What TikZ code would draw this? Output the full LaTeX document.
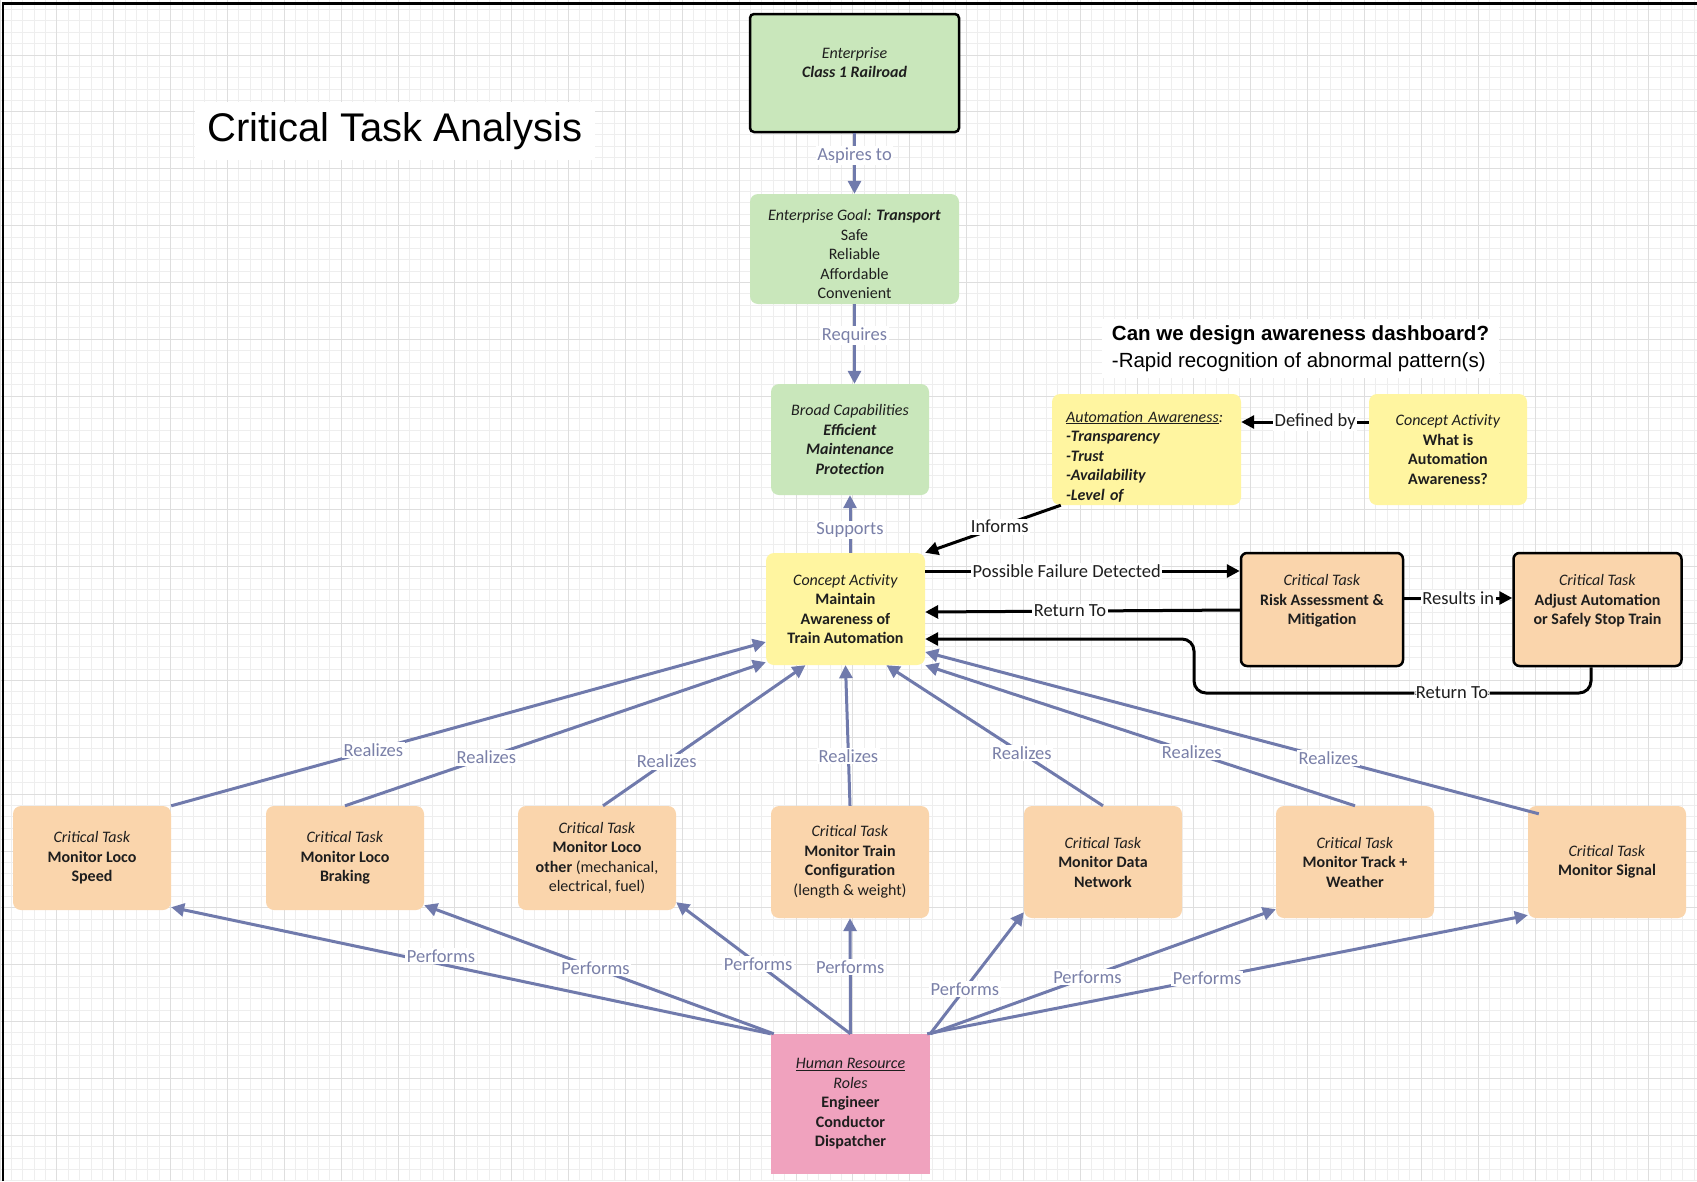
\documentclass[tikz,border=0pt]{standalone}
\usepackage{fontspec}
\setmainfont{Carlito}
\newfontfamily\arialfont{Liberation Sans}
\usetikzlibrary{arrows.meta,calc}

\definecolor{cgreen}{RGB}{201,231,187}
\definecolor{cyellow}{RGB}{255,245,160}
\definecolor{corange}{RGB}{250,213,172}
\definecolor{cpink}{RGB}{240,162,190}
\definecolor{flowblue}{RGB}{112,122,172}
\definecolor{tagblue}{RGB}{122,128,168}
\definecolor{inkcol}{RGB}{30,30,30}
\definecolor{gridminor}{RGB}{238,238,238}
\definecolor{gridmajor}{RGB}{222,222,222}

\newcommand\ctafont{\fontsize{16}{19.5}\selectfont}
\newcommand\tagfont{\fontsize{18.5}{21}\selectfont}

\begin{document}
\begin{tikzpicture}[x=1pt,y=-1pt,
  card/.style={rounded corners=8pt, align=center, inner sep=0pt, font=\ctafont, text=inkcol},
  greencard/.style={card, fill=cgreen},
  yellowcard/.style={card, fill=cyellow},
  orangecard/.style={card, fill=corange},
  blackcard/.style={card, fill=corange, draw=black, line width=2.5pt, rounded corners=6pt},
  blueflow/.style={draw=flowblue, line width=3pt, -{Triangle[length=13pt,width=13pt]}},
  blackflow/.style={draw=black, line width=3pt, -{Triangle[length=13pt,width=13pt]}},
  bluetag/.style={fill=white, inner sep=1.5pt, text=tagblue, font=\tagfont},
  blacktag/.style={fill=white, inner sep=1.5pt, text=inkcol, font=\tagfont},
]
\useasboundingbox (0,0) rectangle (1697,1181);
\fill[white] (0,0) rectangle (1697,1181);

% background grid
\foreach \i in {0,...,149} \draw[gridminor, line width=0.8pt] (\i*11.37,0) -- (\i*11.37,1181);
\foreach \i in {0,...,103} \draw[gridminor, line width=0.8pt] (0,9.52+\i*11.37) -- (1697,9.52+\i*11.37);
\foreach \i in {0,...,29} \draw[gridmajor, line width=0.8pt] (\i*56.85,0) -- (\i*56.85,1181);
\foreach \i in {0,...,19} \draw[gridmajor, line width=0.8pt] (0,55+\i*56.85) -- (1697,55+\i*56.85);

% frame edges
\draw[line width=2.5pt] (3,1181) -- (3,3.5) -- (1697,3.5);

% headings
\node[fill=white, inner xsep=12pt, inner ysep=10pt, font=\arialfont\fontsize{40}{48}\selectfont] (title) at (395,131) {Critical Task Analysis};
\node[fill=white, align=left, inner xsep=10pt, inner ysep=6pt, font=\arialfont\fontsize{20.5}{27}\selectfont] (question) at (1300.5,348.5)
  {\textbf{Can we design awareness dashboard?}\\-Rapid recognition of abnormal pattern(s)};

% enterprise chain
\node[greencard, draw=black, line width=2.5pt, rounded corners=4pt, minimum width=209pt, minimum height=118pt] (en) at (854.5,73)
  {\parbox[c][118pt][t]{200pt}{\centering\vspace*{33pt}\textit{Enterprise}\\\textbf{\textit{Class 1 Railroad}}}};
\node[greencard, minimum width=209pt, minimum height=110pt] (goal) at (854.5,249)
  {\rule{0pt}{22pt}\textit{Enterprise Goal:} \textbf{\textit{Transport}}\\Safe\\Reliable\\Affordable\\Convenient};
\node[greencard, minimum width=158pt, minimum height=111pt] (bc) at (850,439.5)
  {\textit{Broad Capabilities}\\\textbf{\textit{Efficient}}\\\textbf{\textit{Maintenance}}\\\textbf{\textit{Protection}}};
\node[yellowcard, minimum width=159pt, minimum height=112pt] (ca) at (845.5,609)
  {\textit{Concept Activity}\\\textbf{Maintain}\\\textbf{Awareness of}\\\textbf{Train Automation}};

% awareness definition
\node[yellowcard, minimum width=189pt, minimum height=111pt, align=left, text width=161pt, inner xsep=14pt] (aa) at (1146.5,449.5)
  {\rule{0pt}{25pt}\underline{\textit{Automation Awareness}}\textit{:}\\\textbf{\textit{-Transparency}}\\\textbf{\textit{-Trust}}\\\textbf{\textit{-Availability}}\\\textbf{\textit{-Level of}}};
\node[yellowcard, minimum width=158pt, minimum height=111pt] (wi) at (1448,449.5)
  {\textit{Concept Activity}\\\textbf{What is}\\\textbf{Automation}\\\textbf{Awareness?}};

% response tasks
\node[blackcard, minimum width=162pt, minimum height=113pt] (ra) at (1322,609.5)
  {\textit{Critical Task}\\\textbf{Risk Assessment \&}\\\textbf{Mitigation}\\\mbox{}};
\node[blackcard, minimum width=168pt, minimum height=113pt] (ad) at (1597.5,609.5)
  {\textit{Critical Task}\\\textbf{Adjust Automation}\\\textbf{or Safely Stop Train}\\\mbox{}};

% monitoring tasks
\node[orangecard, minimum width=158pt, minimum height=104pt] (t1) at (92,858)
  {\textit{Critical Task}\\\textbf{Monitor Loco}\\\textbf{Speed}};
\node[orangecard, minimum width=158pt, minimum height=104pt] (t2) at (345,858)
  {\textit{Critical Task}\\\textbf{Monitor Loco}\\\textbf{Braking}};
\node[orangecard, minimum width=158pt, minimum height=104pt] (t3) at (597,858)
  {\textit{Critical Task}\\\textbf{Monitor Loco}\\\textbf{other} (mechanical,\\electrical, fuel)};
\node[orangecard, minimum width=158pt, minimum height=112pt] (t4) at (850,862)
  {\textit{Critical Task}\\\textbf{Monitor Train}\\\textbf{Configuration}\\(length \& weight)};
\node[orangecard, minimum width=158pt, minimum height=112pt] (t5) at (1103,862)
  {\textit{Critical Task}\\\textbf{Monitor Data}\\\textbf{Network}};
\node[orangecard, minimum width=158pt, minimum height=112pt] (t6) at (1355,862)
  {\textit{Critical Task}\\\textbf{Monitor Track +}\\\textbf{Weather}};
\node[orangecard, minimum width=158pt, minimum height=112pt] (t7) at (1607,862)
  {\textit{Critical Task}\\\textbf{Monitor Signal}};

% human resources
\node[card, fill=cpink, rounded corners=0pt, minimum width=159pt, minimum height=140pt] (hr) at (850.5,1104)
  {\underline{\textit{Human Resource}}\\\textit{Roles}\\\textbf{Engineer}\\\textbf{Conductor}\\\textbf{Dispatcher}};

% vertical chain
\draw[blueflow] (en) -- node[bluetag, pos=0.37] {Aspires to} (goal);
\draw[blueflow] (goal) -- node[bluetag, pos=0.39] {Requires} (goal |- bc.north);
\draw[blueflow] (ca.north -| bc.south) -- node[bluetag, pos=0.4] {Supports} (bc.south);

% awareness links
\draw[blackflow] ([yshift=27.5pt]wi.west) -- node[blacktag, pos=0.42] {Defined by} ([yshift=27.5pt]aa.east);
\draw[blackflow] ([xshift=9pt]aa.south west) -- node[blacktag, pos=0.45] {Informs} (ca.north east);

% failure handling loop
\draw[blackflow] ([yshift=38pt]ca.east) -- node[blacktag, pos=0.45] {Possible Failure Detected} ([yshift=38.5pt]ra.west);
\draw[blackflow] ([yshift=-0.5pt]ra.west) -- node[blacktag, pos=0.54] {Return To} ([yshift=-3pt]ca.east);
\draw[blackflow] ([yshift=11.5pt]ra.east) -- node[blacktag, pos=0.5] {Results in} ([yshift=11.5pt]ad.west);
\draw[blackflow, rounded corners=12pt] ([xshift=-6.5pt]ad.south) -- (1591,693)
  -- node[blacktag, pos=0.35] {Return To} (1194,693) -- (1194,639) -- ([yshift=-30pt]ca.east);

% tasks realize the concept activity
\draw[blueflow] (t1.north east) -- node[bluetag, pos=0.34] {Realizes} ([yshift=-33pt]ca.west);
\draw[blueflow] (t2.north) -- node[bluetag, pos=0.336] {Realizes} ([yshift=3pt]ca.south west);
\draw[blueflow] ([xshift=6pt]t3.north) -- node[bluetag, pos=0.315] {Realizes} ([xshift=-40pt]ca.south);
\draw[blueflow] (t4.north) -- node[bluetag, pos=0.355] {Realizes} (ca.south);
\draw[blueflow] (t5.north) -- node[bluetag, pos=0.375] {Realizes} ([xshift=41pt]ca.south);
\draw[blueflow] (t6.north) -- node[bluetag, pos=0.38] {Realizes} (ca.south east);
\draw[blueflow] ([shift={(11pt,-8pt)}]t7.north west) -- node[bluetag, pos=0.343] {Realizes} ([yshift=-43pt]ca.east);

% roles perform the tasks
\draw[blueflow] (hr.north west) -- node[bluetag, pos=0.55, yshift=8pt] {Performs} ([yshift=3pt]t1.south east);
\draw[blueflow] ([xshift=3pt]hr.north west) -- node[bluetag, pos=0.51] {Performs} ([yshift=5pt]t2.south east);
\draw[blueflow] (hr.north) -- node[bluetag, pos=0.53] {Performs} ([yshift=8pt]t3.south east);
\draw[blueflow] (hr.north) -- node[bluetag, pos=0.58] {Performs} (t4.south);
\draw[blueflow] (hr.north east) -- node[bluetag, pos=0.37] {Performs} ([yshift=6pt]t5.south west);
\draw[blueflow] (hr.north east) -- node[bluetag, pos=0.455] {Performs} ([yshift=9pt]t6.south west);
\draw[blueflow] ([xshift=-3pt]hr.north east) -- node[bluetag, pos=0.466] {Performs} ([yshift=3pt]t7.south west);
\end{tikzpicture}
\end{document}
